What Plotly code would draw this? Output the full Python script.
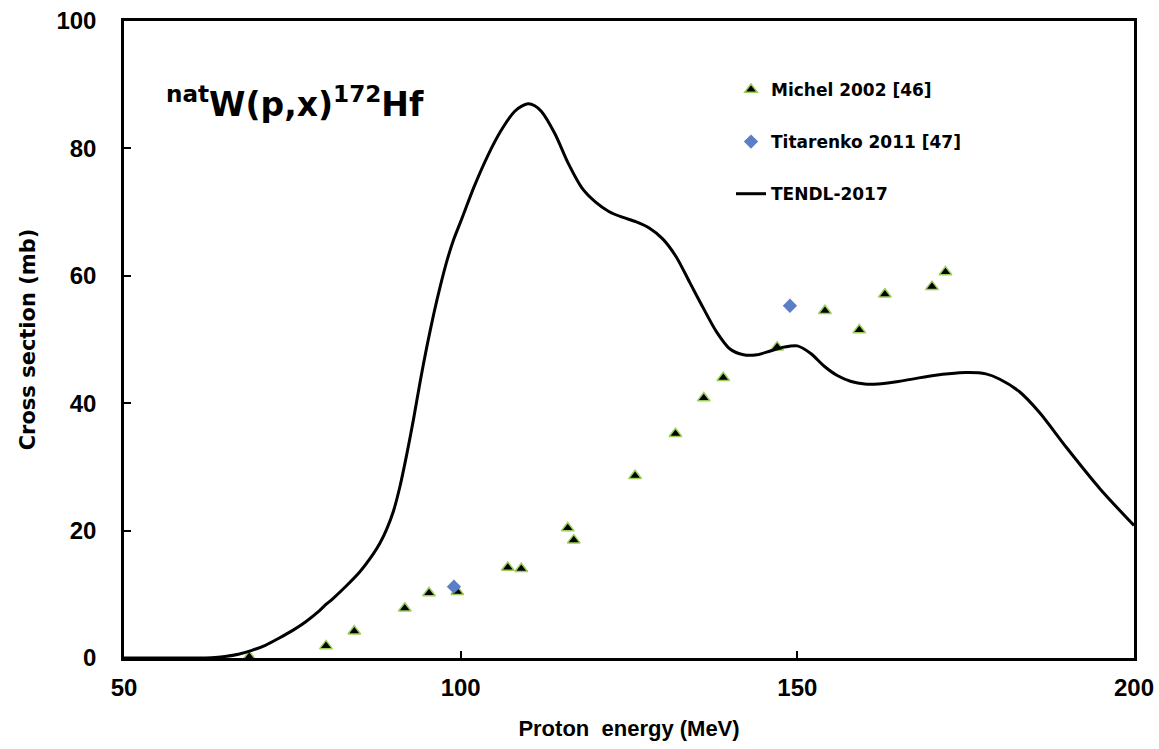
import plotly.graph_objects as go

# Michel 2002 [46]
michel_E = [68.6, 80.0, 84.2, 91.7, 95.3, 99.5, 107.0, 109.0, 115.9, 116.8,
            125.9, 131.9, 136.1, 139.0, 147.0, 154.1, 159.2, 163.0, 170.0, 172.0]
michel_xs = [0.2, 1.9, 4.2, 7.8, 10.2, 10.4, 14.2, 14.0, 20.4, 18.5,
             28.6, 35.2, 40.8, 44.0, 48.8, 54.5, 51.5, 57.1, 58.3, 60.6]

# Titarenko 2011 [47]
tit_E = [99.0, 148.9]
tit_xs = [11.2, 55.3]

# TENDL-2017
tendl_E = [50, 55, 60, 63, 65, 67, 69, 71, 73, 75, 77, 79, 80, 81, 83, 85, 87,
           88, 89, 90, 91, 92, 93, 94, 95, 96, 97, 98, 99, 100, 102, 104, 106,
           108, 109, 110, 111, 112, 114, 116, 118, 120, 122, 124, 126, 128, 130,
           132, 134, 136, 138, 140, 142, 144, 146, 148, 150, 152, 154, 156, 158,
           160, 162, 165, 170, 175, 178, 180, 183, 186, 190, 195, 200]
tendl_xs = [0.0, 0.0, 0.0, 0.05, 0.25, 0.6, 1.2, 2.0, 3.1, 4.3, 5.7, 7.4, 8.4,
            9.3, 11.3, 13.5, 16.3, 18.0, 20.2, 23.0, 27.0, 32.0, 37.5, 43.5,
            49.0, 54.0, 58.5, 62.5, 65.8, 68.5, 74.0, 78.8, 82.8, 85.8, 86.6,
            87.0, 86.7, 85.8, 82.3, 77.6, 73.8, 71.6, 70.1, 69.2, 68.5, 67.5,
            65.8, 63.0, 59.0, 55.0, 51.2, 48.5, 47.6, 47.6, 48.2, 48.8, 49.0,
            47.8, 45.8, 44.3, 43.4, 43.0, 43.0, 43.4, 44.3, 44.8, 44.6, 43.8,
            41.8, 38.5, 33.0, 26.5, 20.8]

x_ticks = [50, 100, 150, 200]
y_ticks = [0, 20, 40, 60, 80, 100]

FONT = "Liberation Sans"
WIDE = "DejaVu Sans"

fig = go.Figure()
fig.add_trace(go.Scatter(
    x=michel_E, y=michel_xs, mode="markers", name="Michel 2002 [46]",
    legendgroup="a",
    marker=dict(symbol="triangle-up", size=11, color="black",
                line=dict(color="#9ccc5a", width=1.5))))
fig.add_trace(go.Scatter(
    x=tit_E, y=tit_xs, mode="markers", name="Titarenko 2011 [47]",
    legendgroup="b",
    marker=dict(symbol="diamond", size=11, color="#5a7fc6",
                line=dict(color="#5a7fc6", width=0))))
fig.add_trace(go.Scatter(
    x=tendl_E, y=tendl_xs, mode="lines", name="TENDL-2017",
    legendgroup="c",
    line=dict(color="black", width=3, shape="spline", smoothing=0.8)))

fig.add_annotation(
    x=0.04, y=0.872, xref="paper", yref="paper", xanchor="left", yanchor="middle",
    text="<sup>nat</sup>W(p,x)<sup>172</sup>Hf", showarrow=False,
    font=dict(family=WIDE, size=33, color="black", weight="bold"))

axis_common = dict(
    showline=True, linecolor="black", linewidth=2.5, mirror=True,
    ticks="inside", tickcolor="black", tickwidth=1.5, ticklen=7,
    showgrid=False, zeroline=False, automargin=False,
    tickfont=dict(family=FONT, size=24, color="black", weight="bold"),
)

fig.update_layout(
    width=1159, height=749,
    margin=dict(l=124, r=25, t=21, b=91),
    plot_bgcolor="white", paper_bgcolor="white",
    showlegend=True,
    legend=dict(x=0.601, xanchor="left", y=0.92, yanchor="top",
                font=dict(family=WIDE, size=17, color="black", weight="bold"),
                tracegroupgap=27, bgcolor="rgba(0,0,0,0)", itemwidth=30),
    xaxis=dict(range=[50, 200], tickvals=x_ticks, ticklabelstandoff=6,
               title=dict(text="Proton  energy (MeV)", standoff=22,
                          font=dict(family=FONT, size=22, color="black", weight="bold")),
               **axis_common),
    yaxis=dict(range=[0, 100], tickvals=y_ticks, ticklabelstandoff=20,
               title=dict(text="Cross section (mb)", standoff=16,
                          font=dict(family=WIDE, size=21, color="black", weight="bold")),
               **axis_common),
)

fig.write_html("out.html")
